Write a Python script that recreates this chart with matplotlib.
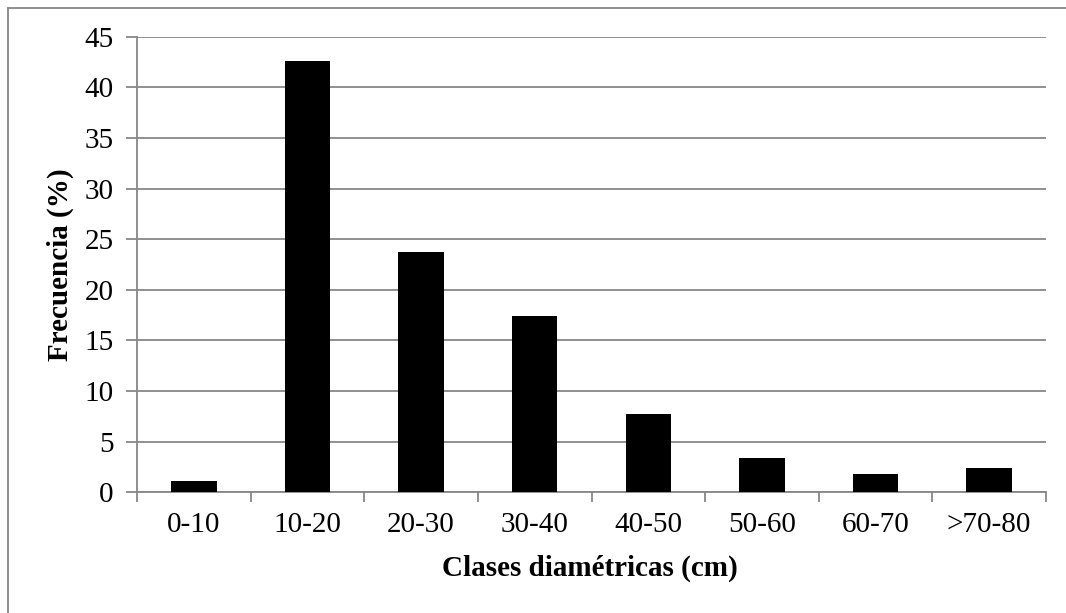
import matplotlib
matplotlib.use("Agg")
import matplotlib.pyplot as plt
from matplotlib.lines import Line2D

categories = ["0-10", "10-20", "20-30", "30-40", "40-50", "50-60", "60-70", ">70-80"]
frecuencia = [1.1, 42.6, 23.7, 17.4, 7.7, 3.4, 1.8, 2.4]
yticks = [0, 5, 10, 15, 20, 25, 30, 35, 40, 45]

plt.rcParams['font.family'] = ['Liberation Serif', 'DejaVu Serif']
W, H = 1066, 613
fs = 21
fig = plt.figure(figsize=(W/100, H/100), dpi=100)
ax = fig.add_axes([137/W, (H-492.3)/H, (1046-137)/W, (492.3-36.7)/H])

grey = '#878787'
x = list(range(len(categories)))
ax.bar(x, frecuencia, width=0.4, color='black', zorder=3)
ax.set_xlim(-0.5, len(categories)-0.5)
ax.set_ylim(0, 45)
ax.set_yticks(yticks)
ax.set_yticklabels([str(v) for v in yticks], fontsize=fs)
ax.yaxis.grid(True, color=grey, linewidth=1.3, zorder=0)
ax.tick_params(axis='y', length=8, color=grey, width=1.3, pad=9)

ax.set_xticks([i - 0.5 for i in range(len(categories)+1)])
ax.set_xticklabels([])
ax.set_xticks(x, minor=True)
ax.set_xticklabels(categories, minor=True, fontsize=fs)
ax.tick_params(axis='x', which='major', length=7, color=grey, width=1.3)
ax.tick_params(axis='x', which='minor', length=0, pad=14)

for s in ['top', 'right']:
    ax.spines[s].set_visible(False)
for s in ['left', 'bottom']:
    ax.spines[s].set_color(grey)
    ax.spines[s].set_linewidth(1.3)

fig.text(590/W, 1 - 568/H, "Clases diamétricas (cm)", fontsize=fs, fontweight='bold',
         ha='center', va='center')
fig.text(60/W, 1 - 265/H, "Frecuencia (%)", fontsize=fs, fontweight='bold',
         ha='center', va='center', rotation=90)

fig.lines.append(Line2D([7.5/W, 7.5/W], [0, 1 - 7.5/H], transform=fig.transFigure,
                        color=grey, linewidth=1.3))
fig.lines.append(Line2D([7.5/W, 1], [1 - 7.5/H, 1 - 7.5/H], transform=fig.transFigure,
                        color=grey, linewidth=1.3))

fig.savefig("out.png", dpi=100)
